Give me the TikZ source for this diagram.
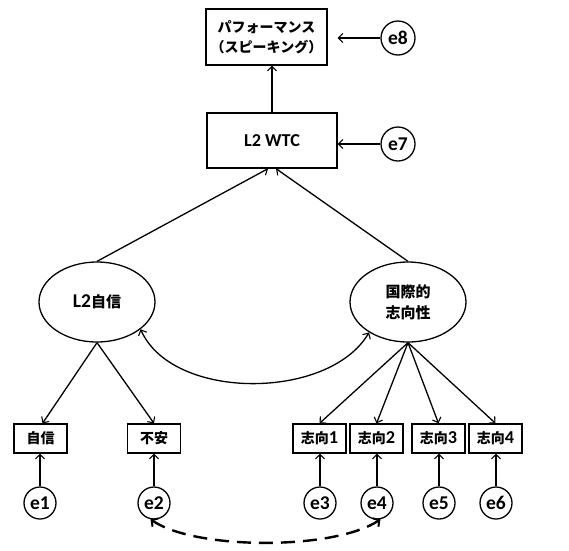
\documentclass[tikz,border=0pt]{standalone}
\usepackage{fontspec}
\setmainfont{Carlito}[Scale=1.3]
\newfontfamily\jp{Noto Sans CJK JP}
\usetikzlibrary{shapes.geometric,arrows.meta}
\begin{document}
\begin{tikzpicture}[x=1pt,y=-1pt,
  every node/.style={font=\bfseries},
  ln/.style={line width=1.3pt},
  tip/.style={},
  arr/.style={ln,-{Straight Barb[length=4.5pt,width=9pt,line width=1.1pt]}},
  dbl/.style={ln,{Straight Barb[length=4.5pt,width=9pt,line width=1.1pt]}-{Straight Barb[length=4.5pt,width=9pt,line width=1.1pt]}},
  boxn/.style={draw,ln,rectangle,inner sep=0pt},
  obs/.style={boxn,minimum width=53pt,minimum height=29pt,font=\fontsize{14}{16}\selectfont\bfseries},
  err/.style={draw,ln,circle,minimum size=32pt,inner sep=0pt,font=\fontsize{15}{17}\selectfont\bfseries},
  errb/.style={err,minimum size=34pt},
  lat/.style={draw,ln,ellipse,minimum width=116pt,minimum height=80pt,inner sep=0pt}
]
\useasboundingbox (0,0) rectangle (569,550);
\node[boxn,minimum width=121pt,minimum height=56pt,align=center,font=\fontsize{14}{20}\selectfont\bfseries] (perf) at (266.5,37) {\jp パフォーマンス\\\jp （スピーキング）};
\node[boxn,minimum width=130pt,minimum height=55pt,font=\fontsize{14}{16}\selectfont\bfseries] (wtc) at (272,140.5) {L2 WTC};
\node[errb] (e8) at (398,38) {e8};
\node[errb] (e7) at (398,144) {e7};
\node[lat,font=\fontsize{15}{17}\selectfont\bfseries] (conf) at (97,302) {L2{\jp 自信}};
\node[lat,align=center,font=\fontsize{15}{21}\selectfont\bfseries] (intl) at (408,302) {\jp 国際的\\\jp 志向性};
\node[obs] (b1) at (40.5,438.5) {\jp 自信};
\node[obs] (b2) at (154,438.5) {\jp 不安};
\node[obs] (b3) at (319.5,438.5) {{\jp 志向}1};
\node[obs] (b4) at (376.5,438.5) {{\jp 志向}2};
\node[obs] (b5) at (438.5,438.5) {{\jp 志向}3};
\node[obs] (b6) at (495.5,438.5) {{\jp 志向}4};
\node[err] (e1) at (40,503) {e1};
\node[err] (e2) at (154,503) {e2};
\node[err] (e3) at (320,503) {e3};
\node[err] (e4) at (377,503) {e4};
\node[err] (e5) at (439,503) {e5};
\node[err] (e6) at (496,503) {e6};
\coordinate (wl) at ([xshift=-4pt]wtc.south);
\coordinate (wr) at ([xshift=4pt]wtc.south);
\draw[arr,shorten >=10pt] (e8) -- (perf.east |- e8);
\draw[arr] (e7) -- (wtc.east |- e7);
\draw[arr] (wtc.north) -- (wtc.north |- perf.south);
\draw[arr] (conf.north) -- (wl);
\draw[arr] (intl.north) -- (wr);
\draw[arr] (conf.south) -- ([xshift=2pt]b1.north);
\draw[arr] (conf.south) -- (b2.north);
\foreach \b in {b3,b4,b5,b6} \draw[arr] (intl.south) -- (\b.north);
\foreach \e/\b in {e1/b1,e2/b2,e3/b3,e4/b4,e5/b5,e6/b6} \draw[arr] (\e.north) -- (\e.north |- \b.south);
\draw[dbl] (conf.-32) .. controls +(32,72) and +(-40,68) .. (intl.218);
\draw[line width=2.4pt,dash pattern=on 14pt off 8pt,{Straight Barb[length=4.5pt,width=10pt,line width=2pt]}-{Straight Barb[length=4.5pt,width=10pt,line width=2pt]}] (e2.-102) .. controls +(45,31) and +(-46,31) .. (e4.-78);
\end{tikzpicture}
\end{document}
